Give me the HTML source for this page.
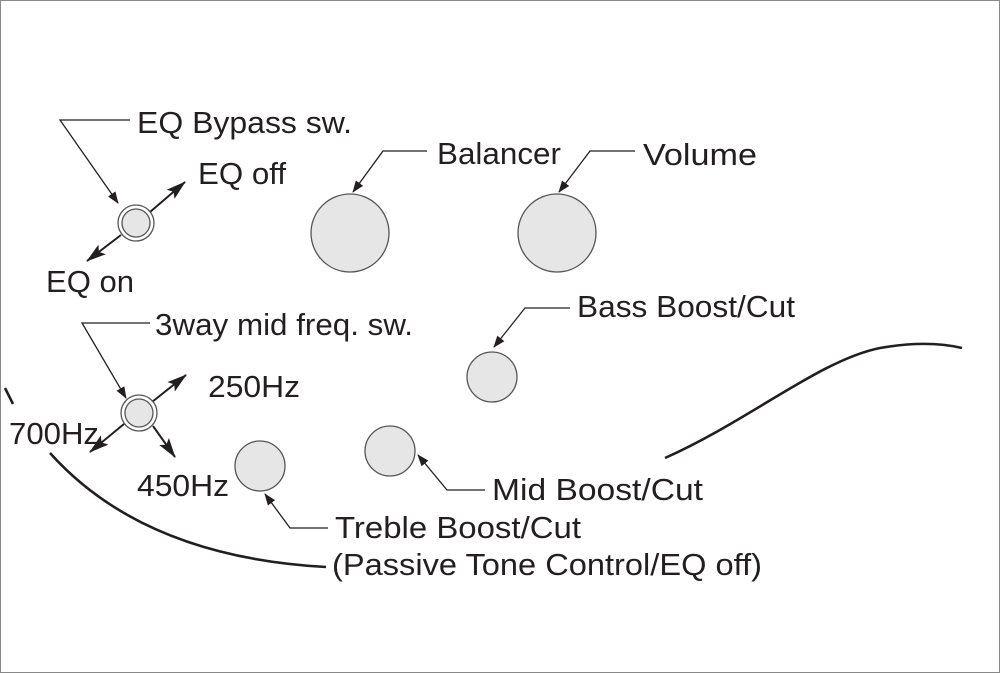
<!DOCTYPE html>
<html><head><meta charset="utf-8"><style>
html,body{margin:0;padding:0;background:#fff;}
svg{display:block;}
text{font-family:"Liberation Sans",sans-serif;font-size:31px;fill:#231f20;}
</style></head><body>
<svg width="1000" height="673" viewBox="0 0 1000 673" xmlns="http://www.w3.org/2000/svg">
<defs>
<marker id="a" markerWidth="12" markerHeight="9" refX="11" refY="4.5" orient="auto" markerUnits="userSpaceOnUse"><path d="M0,0 L12,4.5 L0,9 Z" fill="#231f20"/></marker>
<marker id="b" markerWidth="20" markerHeight="12" refX="19" refY="6" orient="auto" markerUnits="userSpaceOnUse"><path d="M0,0 L20,6 L0,12 L4,6 Z" fill="#231f20"/></marker>
</defs>
<rect x="0.5" y="0.5" width="999" height="672" fill="#fff" stroke="#888" stroke-width="1"/>
<g fill="none" stroke="#231f20" stroke-width="1.3">
<polyline points="130,120 60,120 118,203" marker-end="url(#a)"/>
<polyline points="150,323 82,323 126,398" marker-end="url(#a)"/>
<polyline points="427,151 383,151 353,192" marker-end="url(#a)"/>
<polyline points="635,151 590,151 559,192" marker-end="url(#a)"/>
<polyline points="570,308 525,308 494,347" marker-end="url(#a)"/>
<polyline points="485,490 447,490 418,455" marker-end="url(#a)"/>
<polyline points="328,528 290,528 265,494" marker-end="url(#a)"/>
</g>
<g fill="none" stroke="#231f20" stroke-width="2">
<line x1="150" y1="212" x2="185" y2="182" marker-end="url(#b)"/>
<line x1="121" y1="235" x2="87" y2="261" marker-end="url(#b)"/>
<line x1="152" y1="402" x2="186" y2="375" marker-end="url(#b)"/>
<line x1="124" y1="424" x2="90" y2="452" marker-end="url(#b)"/>
<line x1="153" y1="426" x2="175" y2="457" marker-end="url(#b)"/>
</g>
<g stroke="#231f20" stroke-width="2.6" fill="none">
<path d="M50,453 C110,520 200,560 326,567"/>
<path d="M5,388 L13,404"/>
<path d="M665,458 C750,420 820,360 880,348 C920,341 945,344 962,348"/>
</g>
<g stroke="#555" stroke-width="1.3" fill="#e6e6e6">
<circle cx="136" cy="223" r="18" fill="#fff"/>
<circle cx="136" cy="223" r="14"/>
<circle cx="139" cy="413" r="18" fill="#fff"/>
<circle cx="139" cy="413" r="14"/>
<circle cx="350" cy="233" r="39"/>
<circle cx="557" cy="233" r="39"/>
<circle cx="492" cy="377" r="25"/>
<circle cx="390" cy="451" r="25"/>
<circle cx="260" cy="466" r="25"/>
</g>
<text x="137" y="133" textLength="215" lengthAdjust="spacingAndGlyphs">EQ Bypass sw.</text>
<text x="198" y="184" textLength="88" lengthAdjust="spacingAndGlyphs">EQ off</text>
<text x="46" y="292" textLength="88" lengthAdjust="spacingAndGlyphs">EQ on</text>
<text x="155" y="335" textLength="258" lengthAdjust="spacingAndGlyphs">3way mid freq. sw.</text>
<text x="208" y="397" textLength="92" lengthAdjust="spacingAndGlyphs">250Hz</text>
<text x="9" y="444" textLength="90" lengthAdjust="spacingAndGlyphs">700Hz</text>
<text x="137" y="496" textLength="92" lengthAdjust="spacingAndGlyphs">450Hz</text>
<text x="437" y="164" textLength="124" lengthAdjust="spacingAndGlyphs">Balancer</text>
<text x="643" y="165" textLength="114" lengthAdjust="spacingAndGlyphs">Volume</text>
<text x="577" y="317" textLength="218" lengthAdjust="spacingAndGlyphs">Bass Boost/Cut</text>
<text x="492" y="500" textLength="211" lengthAdjust="spacingAndGlyphs">Mid Boost/Cut</text>
<text x="335" y="538" textLength="246" lengthAdjust="spacingAndGlyphs">Treble Boost/Cut</text>
<text x="332" y="575" textLength="430" lengthAdjust="spacingAndGlyphs">(Passive Tone Control/EQ off)</text>
</svg>
</body></html>
